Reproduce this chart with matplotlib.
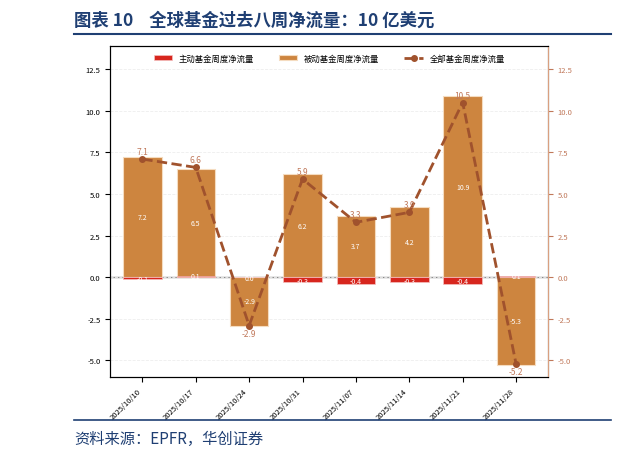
import matplotlib.pyplot as plt

plt.rcParams['font.family'] = ['Noto Sans CJK SC', 'DejaVu Sans']
plt.rcParams['axes.unicode_minus'] = True

dates = ['2025/10/10', '2025/10/17', '2025/10/24', '2025/10/31',
         '2025/11/07', '2025/11/14', '2025/11/21', '2025/11/28']
active = [-0.1, 0.1, 0.0, -0.3, -0.4, -0.3, -0.4, 0.1]
passive = [7.2, 6.5, -2.9, 6.2, 3.7, 4.2, 10.9, -5.3]
total = [7.1, 6.6, -2.9, 5.9, 3.3, 3.9, 10.5, -5.2]

orange = '#cd853f'
red = '#d7261e'
brown = '#a0522d'

fig = plt.figure(figsize=(6.2, 4.6), dpi=100)
ax = fig.add_axes([0.178, 0.178, 0.706, 0.72])
x = range(len(dates))

ax.bar(x, passive, width=0.72, color=orange, edgecolor='#f5dcc0', linewidth=0.8,
       label='被动基金周度净流量', zorder=2)
ax.bar(x, active, width=0.72, color=red, edgecolor='#f5c0c0', linewidth=0.5,
       label='主动基金周度净流量', zorder=3)
ax.plot(x, total, color=brown, linestyle='--', linewidth=2, marker='o', markersize=4,
        label='全部基金周度净流量', zorder=4)

for i in x:
    ax.text(i, passive[i] / 2, f'{passive[i]:.1f}', color='white', fontsize=5,
            ha='center', va='center', zorder=5)
    ax.text(i, active[i] / 2 - (0.05 if active[i] <= 0 else -0.02), f'{active[i]:.1f}',
            color='white', fontsize=5, ha='center', va='center', zorder=5)
    off = 0.45 if total[i] >= 0 else -0.45
    ax.text(i, total[i] + off, f'{total[i]:.1f}', color='#c0785a', fontsize=6,
            ha='center', va='center', zorder=5)

ticks = [-5, -2.5, 0, 2.5, 5, 7.5, 10, 12.5]
ax.axhline(0, color='#888888', linewidth=1, zorder=1)
ax.set_ylim(-6.0, 13.9)
ax.set_xlim(-0.6, 7.6)
ax.set_yticks(ticks)
ax.set_yticklabels([f'{v:.1f}' for v in ticks])
ax.tick_params(axis='y', labelsize=5.5)
ax.set_xticks(list(x))
ax.set_xticklabels(dates, rotation=45, ha='right', fontsize=5.5)
ax.grid(axis='y', linestyle='--', color='#eeeeee', linewidth=0.6, zorder=0)

ax2 = ax.twinx()
ax2.set_ylim(ax.get_ylim())
ax2.set_yticks(ticks)
ax2.set_yticklabels([f'{v:.1f}' for v in ticks])
ax2.tick_params(axis='y', labelsize=5.5, colors='#c0785a')
ax2.spines['right'].set_color('#d9a080')

handles, labels = ax.get_legend_handles_labels()
want = ['主动基金周度净流量', '被动基金周度净流量', '全部基金周度净流量']
order = [labels.index(w) for w in want]
ax.legend([handles[i] for i in order], [labels[i] for i in order], loc='upper center',
          ncol=3, fontsize=6, frameon=False, bbox_to_anchor=(0.5, 1.0),
          handlelength=2.2, columnspacing=3)

fig.text(0.12, 0.955, '图表 10    全球基金过去八周净流量：10 亿美元', fontsize=12.5,
         fontweight='bold', color='#1f3f73', va='center')
fig.add_artist(plt.Line2D([0.12, 0.985], [0.925, 0.925], color='#1f3f73', linewidth=1.5))
fig.add_artist(plt.Line2D([0.12, 0.985], [0.085, 0.085], color='#1f3f73', linewidth=1.2))
fig.text(0.12, 0.045, '资料来源：EPFR，华创证券', fontsize=11, style='italic',
         color='#1f3f73', va='center')

fig.savefig('out.png', dpi=100)
